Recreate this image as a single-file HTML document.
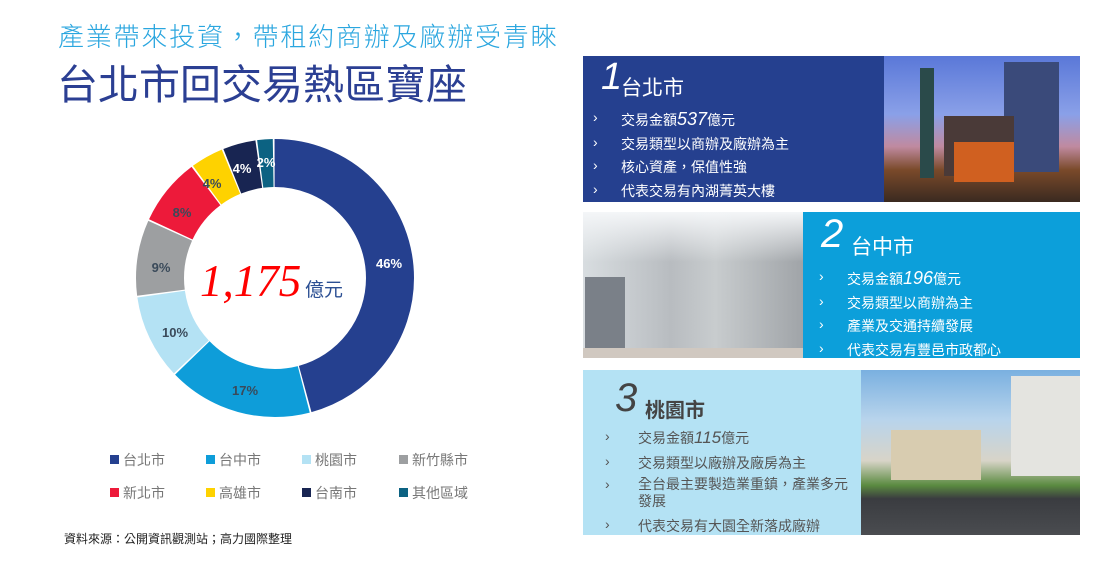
<!DOCTYPE html>
<html><head><meta charset="utf-8"><style>
body{margin:0;width:1098px;height:563px;background:#fff;position:relative;overflow:hidden;font-family:"Liberation Sans","Noto Sans CJK TC",sans-serif}
.a{position:absolute;white-space:nowrap}
.lg{position:absolute;font-size:14px;color:#777}
.lg i{display:inline-block;width:9px;height:9px;margin-right:4px;vertical-align:1px}
.pn{position:absolute}
.it{position:absolute;font-size:14px;white-space:nowrap}
</style></head><body>
<div class="a" style="left:58px;top:17px;font-size:26px;color:#2aa6df;letter-spacing:1.8px;font-weight:300">產業帶來投資，帶租約商辦及廠辦受青睞</div>
<div class="a" style="left:57px;top:51px;font-size:41px;color:#2b3f93">台北市回交易熱區寶座</div>

<svg class="a" style="left:0;top:0" width="580" height="563">
<g transform="rotate(-90 275 278)" fill="none" stroke-width="48">
<circle cx="275" cy="278" r="115" pathLength="100" stroke="#fff" stroke-dasharray="100 0"/>
<circle cx="275" cy="278" r="115" pathLength="100" stroke="#25408f" stroke-dasharray="45.8 54.2" stroke-dashoffset="0"/>
<circle cx="275" cy="278" r="115" pathLength="100" stroke="#0e9dd9" stroke-dasharray="16.8 83.2" stroke-dashoffset="-46"/>
<circle cx="275" cy="278" r="115" pathLength="100" stroke="#b4e2f4" stroke-dasharray="9.8 90.2" stroke-dashoffset="-63"/>
<circle cx="275" cy="278" r="115" pathLength="100" stroke="#9d9fa1" stroke-dasharray="8.8 91.2" stroke-dashoffset="-73"/>
<circle cx="275" cy="278" r="115" pathLength="100" stroke="#ed1a3a" stroke-dasharray="7.8 92.2" stroke-dashoffset="-82"/>
<circle cx="275" cy="278" r="115" pathLength="100" stroke="#fed200" stroke-dasharray="3.8 96.2" stroke-dashoffset="-90"/>
<circle cx="275" cy="278" r="115" pathLength="100" stroke="#182552" stroke-dasharray="3.8 96.2" stroke-dashoffset="-94"/>
<circle cx="275" cy="278" r="115" pathLength="100" stroke="#0c6282" stroke-dasharray="1.8 98.2" stroke-dashoffset="-98"/>
</g>
<g font-family="Liberation Sans,sans-serif" font-size="13" font-weight="bold" text-anchor="middle">
<text x="389" y="268" fill="#fff">46%</text>
<text x="245" y="395" fill="#3a4a5a">17%</text>
<text x="175" y="337" fill="#3a4a5a">10%</text>
<text x="161" y="272" fill="#3a4a5a">9%</text>
<text x="182" y="217" fill="#3a4a5a">8%</text>
<text x="212" y="188" fill="#3a4a5a">4%</text>
<text x="242" y="173" fill="#fff">4%</text>
<text x="266" y="167" fill="#fff">2%</text>
</g>
<text x="200" y="296" font-family="Liberation Serif,serif" font-style="italic" font-size="45" fill="#f00">1,175</text>
<text x="305" y="296" font-family="Liberation Sans,Noto Sans CJK TC,sans-serif" font-size="19" fill="#2b4f93">億元</text>
</svg>

<div class="lg" style="left:110px;top:450px"><i style="background:#25408f"></i>台北市</div>
<div class="lg" style="left:206px;top:450px"><i style="background:#0e9dd9"></i>台中市</div>
<div class="lg" style="left:302px;top:450px"><i style="background:#b4e2f4"></i>桃園市</div>
<div class="lg" style="left:399px;top:450px"><i style="background:#9d9fa1"></i>新竹縣市</div>
<div class="lg" style="left:110px;top:483px"><i style="background:#ed1a3a"></i>新北市</div>
<div class="lg" style="left:206px;top:483px"><i style="background:#fed200"></i>高雄市</div>
<div class="lg" style="left:302px;top:483px"><i style="background:#182552"></i>台南市</div>
<div class="lg" style="left:399px;top:483px"><i style="background:#0c6282"></i>其他區域</div>
<div class="a" style="left:64px;top:530px;font-size:12px;color:#222">資料來源：公開資訊觀測站；高力國際整理</div>

<!-- panel 1 -->
<div class="pn" style="left:583px;top:56px;width:301px;height:146px;background:#25408f;color:#fff">
<div class="a" style="left:18px;top:0px;font-size:38px;font-style:italic">1</div>
<div class="a" style="left:38px;top:16px;font-size:21px">台北市</div>
<div class="it" style="left:10px;top:53px">›</div><div class="it" style="left:38px;top:53px">交易金額<i style="font-size:18px">537</i>億元</div>
<div class="it" style="left:10px;top:78px">›</div><div class="it" style="left:38px;top:78px">交易類型以商辦及廠辦為主</div>
<div class="it" style="left:10px;top:101px">›</div><div class="it" style="left:38px;top:101px">核心資產，保值性強</div>
<div class="it" style="left:10px;top:125px">›</div><div class="it" style="left:38px;top:125px">代表交易有內湖菁英大樓</div>
</div>
<div class="pn" style="left:884px;top:56px;width:196px;height:146px;background:linear-gradient(180deg,#5a78d8 0%,#8aa0e8 40%,#c08aa0 62%,#7a4a2a 78%,#3a2a20 100%)">
<div class="a" style="left:36px;top:12px;width:14px;height:110px;background:#2a4a4a"></div>
<div class="a" style="left:120px;top:6px;width:55px;height:110px;background:#3a4a7a"></div>
<div class="a" style="left:60px;top:60px;width:70px;height:60px;background:#4a3a38"></div>
<div class="a" style="left:70px;top:86px;width:60px;height:40px;background:#d06020"></div>
</div>

<!-- panel 2 -->
<div class="pn" style="left:583px;top:212px;width:220px;height:146px;background:linear-gradient(90deg,#d8dde0 0%,#b8bcc0 40%,#c8ccce 60%,#a0a4a8 100%)">
<div class="a" style="left:0;top:0;width:220px;height:50px;background:linear-gradient(180deg,#f4f6f8,rgba(240,240,240,0))"></div>
<div class="a" style="left:2px;top:65px;width:40px;height:75px;background:#7a8088"></div>
<div class="a" style="left:0;top:136px;width:220px;height:10px;background:#d0c8c0"></div>
</div>
<div class="pn" style="left:803px;top:212px;width:277px;height:146px;background:#0c9fda;color:#fff">
<div class="a" style="left:18px;top:0px;font-size:40px;font-style:italic">2</div>
<div class="a" style="left:48px;top:19px;font-size:21px">台中市</div>
<div class="it" style="left:16px;top:56px">›</div><div class="it" style="left:44px;top:56px">交易金額<i style="font-size:18px">196</i>億元</div>
<div class="it" style="left:16px;top:81px">›</div><div class="it" style="left:44px;top:81px">交易類型以商辦為主</div>
<div class="it" style="left:16px;top:104px">›</div><div class="it" style="left:44px;top:104px">產業及交通持續發展</div>
<div class="it" style="left:16px;top:128px">›</div><div class="it" style="left:44px;top:128px">代表交易有豐邑市政都心</div>
</div>

<!-- panel 3 -->
<div class="pn" style="left:583px;top:370px;width:278px;height:165px;background:#b4e2f4;color:#555">
<div class="a" style="left:32px;top:6px;font-size:40px;font-style:italic;color:#444">3</div>
<div class="a" style="left:62px;top:24px;font-size:20px;font-weight:bold;color:#444">桃園市</div>
<div class="it" style="left:22px;top:58px">›</div><div class="it" style="left:55px;top:58px">交易金額<i style="font-size:17px">115</i>億元</div>
<div class="it" style="left:22px;top:83px">›</div><div class="it" style="left:55px;top:83px">交易類型以廠辦及廠房為主</div>
<div class="it" style="left:22px;top:106px">›</div><div class="it" style="left:55px;top:106px;line-height:17px">全台最主要製造業重鎮，產業多元<br>發展</div>
<div class="it" style="left:22px;top:146px">›</div><div class="it" style="left:55px;top:146px">代表交易有大園全新落成廠辦</div>
</div>
<div class="pn" style="left:861px;top:370px;width:219px;height:165px;background:linear-gradient(180deg,#7ab0e0 0%,#b8d4ec 30%,#d8d4c8 55%,#5a8a40 70%,#3a3c40 78%,#4a4c50 100%)">
<div class="a" style="left:150px;top:6px;width:69px;height:100px;background:#e4e4e0"></div>
<div class="a" style="left:30px;top:60px;width:90px;height:50px;background:#d8ccb0"></div>
</div>
</body></html>
